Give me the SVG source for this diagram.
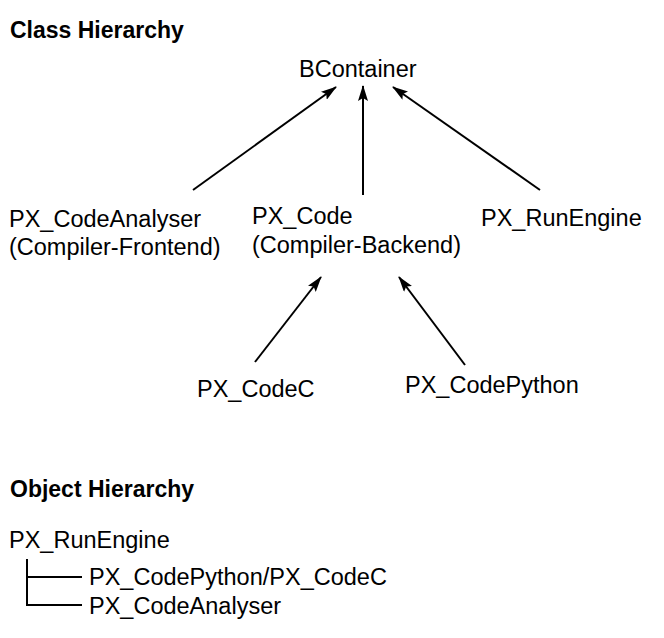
<svg xmlns="http://www.w3.org/2000/svg" width="664" height="638" viewBox="0 0 664 638">
<style>
.t{font-family:"Liberation Sans",Arial,sans-serif;font-size:23.5px;fill:#000}
.h{font-family:"Liberation Sans",Arial,sans-serif;font-size:23px;font-weight:bold;fill:#000}
.c{stroke:#000;stroke-width:2;fill:none}
</style>
<defs>
<marker id="ah" viewBox="0 0 16 10" refX="15" refY="5" markerWidth="8" markerHeight="5" orient="auto" markerUnits="strokeWidth">
<path d="M0,0 L16,5 L0,10 L3,5 Z" fill="#000"/>
</marker>
</defs>
<text class="h" x="10" y="38">Class Hierarchy</text>
<text class="h" x="10" y="497">Object Hierarchy</text>
<g id="bcontainer"><text class="t" x="299" y="77">BContainer</text></g>
<g id="px_codeanalyser"><text class="t" x="9" y="227">PX_CodeAnalyser</text><text class="t" x="9" y="255">(Compiler-Frontend)</text></g>
<g id="px_code"><text class="t" x="252" y="224">PX_Code</text><text class="t" x="252" y="253">(Compiler-Backend)</text></g>
<g id="px_runengine"><text class="t" x="481" y="226">PX_RunEngine</text></g>
<g id="px_codec"><text class="t" x="197" y="397">PX_CodeC</text></g>
<g id="px_codepython"><text class="t" x="405" y="393">PX_CodePython</text></g>
<g id="obj_runengine"><text class="t" x="9" y="548">PX_RunEngine</text></g>
<g id="obj_codepython"><text class="t" x="89" y="585">PX_CodePython/PX_CodeC</text></g>
<g id="obj_codeanalyser"><text class="t" x="89" y="614">PX_CodeAnalyser</text></g>
<g id="connectors">
<line class="c" x1="193" y1="190" x2="336" y2="87" marker-end="url(#ah)"/>
<line class="c" x1="363" y1="195" x2="363" y2="86" marker-end="url(#ah)"/>
<line class="c" x1="540" y1="190" x2="393" y2="87" marker-end="url(#ah)"/>
<line class="c" x1="255" y1="362" x2="321" y2="277" marker-end="url(#ah)"/>
<line class="c" x1="465" y1="365" x2="399" y2="277" marker-end="url(#ah)"/>
<path class="c" d="M27,559 V605 H82 M27,577 H82"/>
</g>
</svg>
